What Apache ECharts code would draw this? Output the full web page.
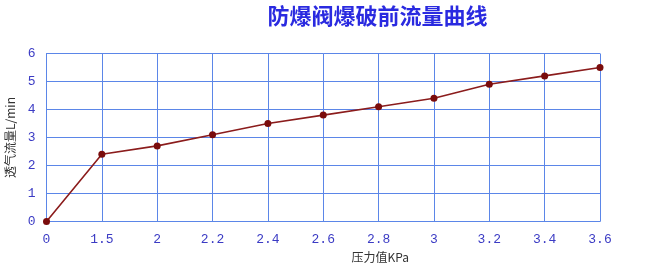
<!DOCTYPE html>
<html>
<head>
<meta charset="utf-8">
<script src="https://cdn.jsdelivr.net/npm/echarts@6/dist/echarts.min.js"></script>
<style>html,body{margin:0;padding:0;background:#fff}#c{width:657px;height:264px}</style>
</head>
<body>
<div id="c"></div>
<script>
const titleText = '防爆阀爆破前流量曲线';
const xName = '压力值KPa';
const yName = '透气流量L/min';
const categories = ['0', '1.5', '2', '2.2', '2.4', '2.6', '2.8', '3', '3.2', '3.4', '3.6'];
const flowValues = [0, 2.4, 2.7, 3.1, 3.5, 3.8, 4.1, 4.4, 4.9, 5.2, 5.5];

const gridColor = '#5b86e8';
const labelColor = '#3b3bc4';
const chart = echarts.init(document.getElementById('c'), null, {renderer: 'canvas'});
chart.setOption({
  animation: false,
  backgroundColor: '#fff',
  title: {
    text: titleText,
    left: 372.5, top: 0, textAlign: 'center',
    textStyle: {fontFamily: 'Noto Sans CJK SC', fontWeight: 'bold', fontSize: 22, color: '#2a2ae0'}
  },
  grid: {left: 46.5, right: 57, top: 53.5, bottom: 42.5, containLabel: false, outerBoundsMode: 'none'},
  xAxis: {
    type: 'category', data: categories, boundaryGap: false,
    name: xName, nameLocation: 'middle', nameGap: 29,
    nameTextStyle: {fontFamily: 'Noto Sans CJK SC', fontSize: 12, color: '#333', padding: [0, 0, 0, 114]},
    axisLine: {lineStyle: {color: gridColor, width: 1}},
    axisTick: {show: false},
    axisLabel: {margin: 12, fontFamily: 'Liberation Mono', fontSize: 13, color: labelColor},
    splitLine: {show: true, lineStyle: {color: gridColor, width: 1}}
  },
  yAxis: {
    type: 'value', min: 0, max: 6, interval: 1,
    name: yName, nameLocation: 'middle', nameGap: 30,
    nameTextStyle: {fontFamily: 'Noto Sans CJK SC', fontSize: 12, color: '#333'},
    axisLine: {show: true, lineStyle: {color: gridColor, width: 1}},
    axisTick: {show: false},
    axisLabel: {margin: 11, fontFamily: 'Liberation Mono', fontSize: 13, color: labelColor},
    splitLine: {show: true, lineStyle: {color: gridColor, width: 1}}
  },
  series: [{
    type: 'line', data: flowValues,
    symbol: 'circle', symbolSize: 7,
    lineStyle: {color: '#8b1c1c', width: 1.6},
    itemStyle: {color: '#7a0c0c'}
  }]
});
</script>
</body>
</html>
